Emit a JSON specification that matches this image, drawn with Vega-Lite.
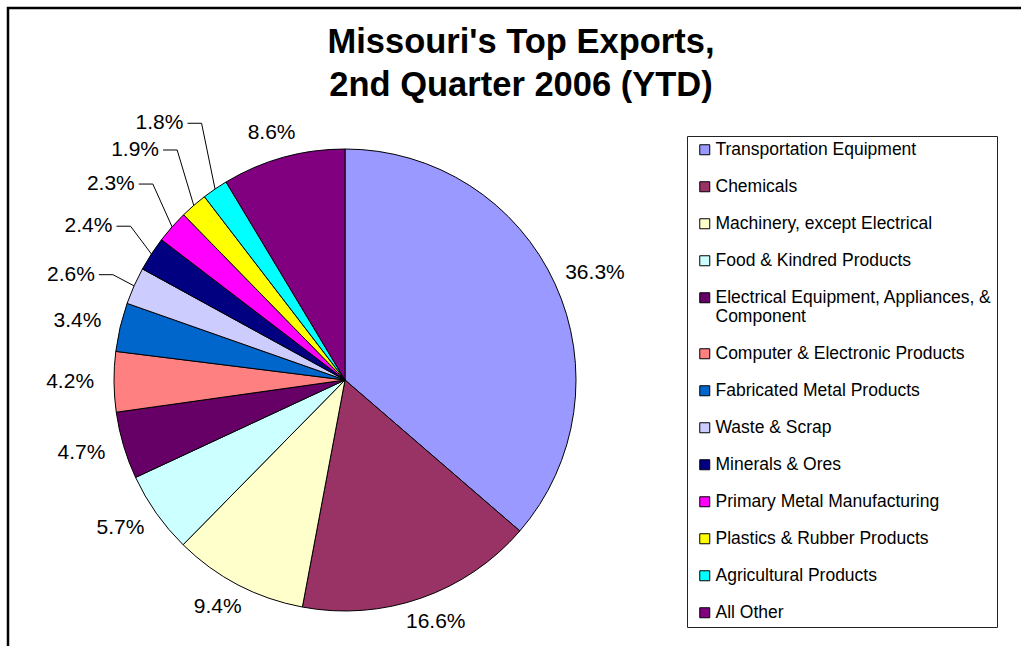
{
  "$schema": "https://vega.github.io/schema/vega-lite/v6.json",
  "width": 1016,
  "height": 641,
  "autosize": {"type": "none"},
  "padding": {"left": 8, "top": 8, "right": -3, "bottom": -3},
  "background": "white",
  "title": {
    "text": ["Missouri's Top Exports,", "2nd Quarter 2006 (YTD)"],
    "font": "Liberation Sans",
    "fontSize": 34.5,
    "fontWeight": "bold",
    "color": "black",
    "anchor": "middle",
    "baseline": "alphabetic",
    "lineHeight": 43,
    "offset": -122,
    "dx": 5
  },
  "config": {"view": {"stroke": "black", "strokeWidth": 2.5}},
  "data": {
    "values": [
      {"idx": 1, "category": "Transportation Equipment", "value": 36.3},
      {"idx": 2, "category": "Chemicals", "value": 16.6},
      {"idx": 3, "category": "Machinery, except Electrical", "value": 9.4},
      {"idx": 4, "category": "Food & Kindred Products", "value": 5.7},
      {"idx": 5, "category": "Electrical Equipment, Appliances, & Component", "value": 4.7},
      {"idx": 6, "category": "Computer & Electronic Products", "value": 4.2},
      {"idx": 7, "category": "Fabricated Metal Products", "value": 3.4},
      {"idx": 8, "category": "Waste & Scrap", "value": 2.6},
      {"idx": 9, "category": "Minerals & Ores", "value": 2.4},
      {"idx": 10, "category": "Primary Metal Manufacturing", "value": 2.3},
      {"idx": 11, "category": "Plastics & Rubber Products", "value": 1.9},
      {"idx": 12, "category": "Agricultural Products", "value": 1.8},
      {"idx": 13, "category": "All Other", "value": 8.6}
    ]
  },
  "transform": [
    {"joinaggregate": [{"op": "sum", "field": "value", "as": "total"}]},
    {"window": [{"op": "sum", "field": "value", "as": "cum"}], "sort": [{"field": "idx"}], "frame": [null, 0]},
    {"calculate": "2*PI*(datum.cum - datum.value/2)/datum.total", "as": "mid"},
    {"calculate": "datum.value < 3 ? 1.25*sin(datum.mid - 0.1) : 1.19*sin(datum.mid)", "as": "lx"},
    {"calculate": "datum.value < 3 ? 1.45*cos(datum.mid - 0.1) : 1.11*cos(datum.mid)", "as": "ly"},
    {"calculate": "sin(datum.mid)", "as": "ex"},
    {"calculate": "cos(datum.mid)", "as": "ey"},
    {"calculate": "datum.lx + 0.182", "as": "bx"},
    {"calculate": "datum.lx + 0.121", "as": "ax"},
    {"calculate": "format(datum.value, '.1f') + '%'", "as": "lbl"}
  ],
  "layer": [
    {
      "mark": {"type": "arc", "outerRadius": 231, "stroke": "black", "strokeWidth": 1},
      "encoding": {
        "theta": {"field": "value", "type": "quantitative", "stack": true},
        "order": {"field": "idx", "type": "quantitative"},
        "x": {"datum": 0, "type": "quantitative", "scale": {"domain": [-1.4589, 2.9394], "nice": false, "zero": false}, "axis": null},
        "y": {"datum": 0, "type": "quantitative", "scale": {"domain": [-1.1645, 1.6104], "nice": false, "zero": false}, "axis": null},
        "color": {
          "field": "category",
          "type": "nominal",
          "scale": {
            "domain": ["Transportation Equipment", "Chemicals", "Machinery, except Electrical", "Food & Kindred Products", "Electrical Equipment, Appliances, & Component", "Computer & Electronic Products", "Fabricated Metal Products", "Waste & Scrap", "Minerals & Ores", "Primary Metal Manufacturing", "Plastics & Rubber Products", "Agricultural Products", "All Other"],
            "range": ["#9999FF", "#993366", "#FFFFCC", "#CCFFFF", "#660066", "#FF8080", "#0066CC", "#CCCCFF", "#000080", "#FF00FF", "#FFFF00", "#00FFFF", "#800080"]
          },
          "legend": {
            "title": null,
            "orient": "none",
            "legendX": 679,
            "legendY": 128,
            "symbolType": "square",
            "symbolSize": 100,
            "symbolOffset": 4,
            "symbolStrokeColor": "black",
            "symbolStrokeWidth": 1,
            "labelFont": "Liberation Sans",
            "labelFontSize": 17.5,
            "labelColor": "black",
            "labelLimit": 400,
            "labelOffset": 2,
            "rowPadding": 18,
            "padding": 5,
            "strokeColor": "#222222",
            "fillColor": "white",
            "labelExpr": "datum.label == 'Electrical Equipment, Appliances, & Component' ? ['Electrical Equipment, Appliances, &', 'Component'] : datum.label"
          }
        }
      }
    },
    {
      "mark": {"type": "text", "font": "Liberation Sans", "fontSize": 21, "color": "black", "align": "center", "baseline": "middle"},
      "encoding": {
        "x": {"field": "lx", "type": "quantitative"},
        "y": {"field": "ly", "type": "quantitative"},
        "text": {"field": "lbl", "type": "nominal"}
      }
    },
    {
      "transform": [{"filter": "datum.value < 3"}],
      "mark": {"type": "rule", "color": "black", "strokeWidth": 1},
      "encoding": {
        "x": {"field": "ex", "type": "quantitative"},
        "y": {"field": "ey", "type": "quantitative"},
        "x2": {"field": "bx"},
        "y2": {"field": "ly"}
      }
    },
    {
      "transform": [{"filter": "datum.value < 3"}],
      "mark": {"type": "rule", "color": "black", "strokeWidth": 1},
      "encoding": {
        "x": {"field": "bx", "type": "quantitative"},
        "y": {"field": "ly", "type": "quantitative"},
        "x2": {"field": "ax"},
        "y2": {"field": "ly"}
      }
    }
  ]
}
